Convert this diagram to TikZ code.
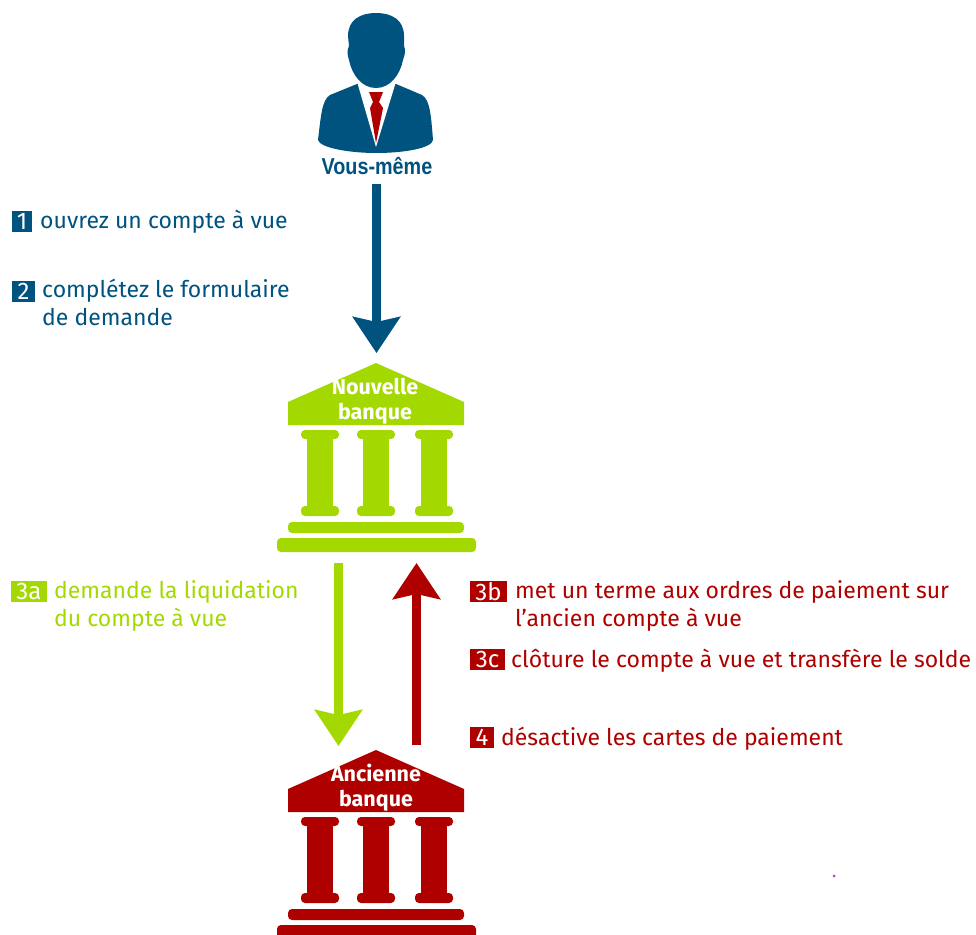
\documentclass[tikz,border=0pt]{standalone}
\usepackage{fontspec}
\setmainfont{Fira Sans}
\newfontfamily\vousfont[FakeStretch=0.86]{Liberation Sans}
\usetikzlibrary{arrows.meta}
\definecolor{bleu}{RGB}{0,82,127}
\definecolor{vert}{RGB}{163,217,0}
\definecolor{rouge}{RGB}{175,0,0}
\tikzset{
	badge/.style={fill=#1, text=white, inner sep=0pt, minimum height=21pt, font=\fontsize{24}{24}\selectfont},
	legend/.style={anchor=base west, text=#1, align=left, inner sep=0pt, font=\fontsize{23}{28}\selectfont},
	flow/.style={line width=9pt, draw=#1, -{Stealth[length=36pt, width=47pt, inset=5pt]}},
	banklabel/.style={text=white, inner sep=0pt, align=center, font=\fontsize{21.5}{25}\selectfont\bfseries},
	pics/bank/.style={code={
		\fill[#1] (0, -25) -- (88, 14) -- (88, 37) -- (-88, 37) -- (-88, 14) -- cycle;
		\foreach \cx in {-56, 0, 58} {
			\fill[#1, rounded corners=4pt] (\cx-19, 42) rectangle (\cx+19, 51);
			\fill[#1, rounded corners=4pt] (\cx-19, 118) rectangle (\cx+19, 128);
			\fill[#1] (\cx-13, 45) rectangle (\cx+13, 124);
		}
		\fill[#1, rounded corners=4pt] (-88, 134) rectangle (88, 145);
		\fill[#1, rounded corners=4pt] (-99, 150) rectangle (100, 164);
	}}
}
\begin{document}
\begin{tikzpicture}[x=1pt, y=-1pt]
	\clip (0, 0) rectangle (976, 934);

	% person
	\fill[bleu] (357, 84) -- (330, 95) .. controls (322, 100) and (321, 115) .. (318, 140)
		.. controls (320, 148) and (350, 153) .. (376, 153) .. controls (405, 153) and (432, 148) .. (433, 140)
		.. controls (431, 115) and (430, 100) .. (422, 95) -- (396, 84) -- cycle;
	\fill[white] (358, 80) -- (358, 85) -- (376, 147) -- (395, 85) -- (395, 80) -- cycle;
	\fill[bleu] (376, 13) .. controls (392, 13) and (404, 20) .. (404, 36) -- (404, 46)
		.. controls (406, 50) and (405, 54) .. (403, 60) .. controls (400, 75) and (390, 88) .. (376, 88)
		.. controls (362, 88) and (352, 75) .. (349, 60) .. controls (347, 54) and (347, 50) .. (349, 46)
		-- (348, 36) .. controls (348, 20) and (360, 13) .. (376, 13) -- cycle;
	\fill[rouge] (369, 92) -- (383, 92) -- (379, 102) -- (383, 108) -- (376, 143) -- (370, 108) -- (373, 102) -- cycle;
	\node[inner sep=0pt, text=bleu, font=\fontsize{23}{23}\selectfont\vousfont\bfseries] (vous) at (377, 166) {Vous-même};

	% banks
	\pic at (376, 388) {bank=vert};
	\pic at (376, 775) {bank=rouge};
	\node[banklabel] (nouvelle) at (375, 401) {Nouvelle\\banque};
	\node[banklabel] (ancienne) at (376, 788) {Ancienne\\banque};

	% arrows
	\coordinate (vertdep) at (338.5, 563);
	\coordinate (vertarr) at (338.5, 746);
	\coordinate (rougedep) at (416.5, 745);
	\coordinate (rougearr) at (416.5, 563);
	\coordinate (bleudep) at (376.5, 184);
	\coordinate (bleuarr) at (376.5, 353);
	\draw[flow=bleu] (bleudep) -- (bleuarr);
	\draw[flow=vert] (vertdep) -- (vertarr);
	\draw[flow=rouge] (rougedep) -- (rougearr);

	% legends
	\node[badge=bleu, minimum width=20pt] (b1) at (22, 221.5) {1};
	\node[legend=bleu] (t1) at (40, 228) {ouvrez un compte à vue};
	\node[badge=bleu, minimum width=23pt] (b2) at (23.5, 291) {2};
	\node[legend=bleu] (t2) at (42, 325) {complétez le formulaire\\de demande};
	\node[badge=vert, minimum width=36pt] (b3a) at (29, 591.5) {3a};
	\node[legend=vert] (t3a) at (54, 626) {demande la liquidation\\du compte à vue};
	\node[badge=rouge, minimum width=37pt] (b3b) at (488.5, 591.5) {3b};
	\node[legend=rouge] (t3b) at (515, 626) {met un terme aux ordres de paiement sur\\l’ancien compte à vue};
	\node[badge=rouge, minimum width=35pt] (b3c) at (487.5, 659.5) {3c};
	\node[legend=rouge] (t3c) at (511, 667) {clôture le compte à vue et transfère le solde};
	\node[badge=rouge, minimum width=24pt] (b4) at (482, 737.5) {4};
	\node[legend=rouge] (t4) at (501, 745) {désactive les cartes de paiement};

	\fill[violet!70] (834, 876) circle [radius=1.5];
\end{tikzpicture}
\end{document}
